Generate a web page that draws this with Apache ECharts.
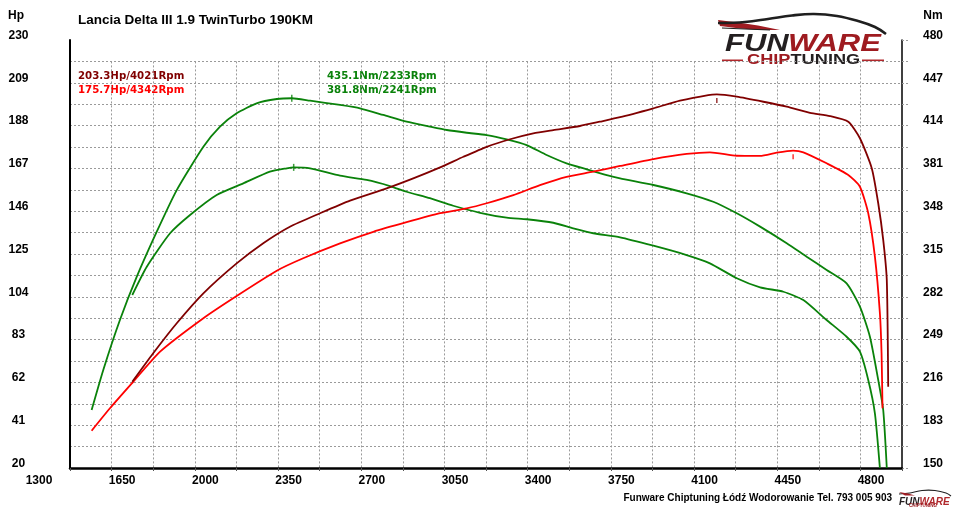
<!DOCTYPE html>
<html>
<head>
<meta charset="utf-8">
<script src="https://cdn.jsdelivr.net/npm/echarts@6.0.0/dist/echarts.min.js"></script>
<style>
  html, body { margin: 0; padding: 0; background: #fff; }
  #chart { width: 960px; height: 521px; }
</style>
</head>
<body>
<div id="chart"></div>
<script>
// Dyno sheet: Lancia Delta III 1.9 TwinTurbo, stock vs tuned
const rpmTicks = [1300, 1650, 2000, 2350, 2700, 3050, 3400, 3750, 4100, 4450, 4800];
const hpTicks = [20, 41, 62, 83, 104, 125, 146, 167, 188, 209, 230];
const nmTicks = [150, 183, 216, 249, 282, 315, 348, 381, 414, 447, 480];

// tuned power (dark red)
const tunedHpRpm = [1562, 1650, 1749, 1861, 2001, 2113, 2225, 2352, 2478, 2632, 2744, 2857, 2955, 3053, 3151, 3249, 3333, 3445, 3529, 3614, 3754, 3866, 3985, 4021, 4105, 4217, 4315, 4413, 4497, 4574, 4623, 4673, 4700, 4721, 4736, 4742];
const tunedHp = [62.3, 76.3, 91.0, 105.7, 120.4, 130.3, 138.4, 145.0, 151.2, 157.2, 162.1, 167.5, 172.7, 177.6, 181.3, 184.2, 185.8, 187.8, 189.9, 192.1, 196.5, 200.2, 203.0, 203.3, 202.2, 199.7, 197.3, 194.3, 192.7, 189.9, 181.8, 167.0, 149.9, 131.9, 112.2, 59.9];

// stock power (red)
const stockHpRpm = [1391, 1468, 1566, 1679, 1861, 2001, 2170, 2281, 2436, 2576, 2716, 2857, 2969, 3053, 3165, 3277, 3389, 3501, 3614, 3754, 3894, 3992, 4105, 4203, 4273, 4342, 4385, 4483, 4574, 4623, 4658, 4686, 4707, 4714, 4718];
const stockHp = [38.3, 49.3, 62.3, 77.1, 93.5, 104.4, 116.8, 122.9, 130.2, 135.9, 140.6, 145.0, 147.4, 149.9, 153.9, 158.8, 162.9, 165.4, 168.2, 171.6, 174.1, 174.9, 173.2, 173.1, 174.7, 175.7, 174.9, 169.5, 163.8, 158.0, 145.0, 123.7, 95.9, 76.3, 49.3];

// tuned torque (upper green)
const tunedNmRpm = [1391, 1440, 1510, 1581, 1665, 1749, 1861, 1931, 2001, 2085, 2170, 2233, 2310, 2436, 2520, 2618, 2716, 2814, 2885, 2969, 3053, 3137, 3221, 3305, 3389, 3474, 3558, 3614, 3754, 3894, 4006, 4105, 4203, 4315, 4399, 4483, 4567, 4623, 4665, 4700, 4721, 4736];
const tunedNm = [194.7, 225.6, 264.1, 297.5, 332.2, 364.3, 397.7, 413.2, 423.5, 431.2, 434.5, 435.1, 433.2, 429.9, 427.3, 422.2, 417.0, 413.2, 410.6, 408.5, 406.7, 403.4, 399.0, 391.3, 384.9, 380.3, 375.9, 373.4, 368.2, 361.8, 355.3, 346.4, 336.1, 323.3, 312.9, 302.7, 292.4, 274.4, 251.2, 217.9, 194.7, 150];

// stock torque (lower green)
const stockNmRpm = [1562, 1623, 1721, 1805, 1917, 2029, 2141, 2212, 2241, 2310, 2436, 2548, 2646, 2716, 2814, 2912, 3025, 3137, 3221, 3333, 3417, 3501, 3614, 3754, 3894, 3992, 4105, 4203, 4301, 4385, 4483, 4567, 4623, 4658, 4686, 4707];
const stockNm = [283.4, 305.2, 331.0, 345.1, 360.5, 369.5, 378.5, 381.1, 381.8, 381.1, 375.4, 372.1, 367.4, 363.0, 358.0, 352.2, 346.8, 343.0, 341.8, 339.1, 334.8, 331.0, 327.9, 321.4, 314.2, 307.8, 296.3, 289.3, 285.9, 279.5, 264.1, 251.2, 239.7, 217.9, 192.2, 150];

// peaks [rpm, value]
const tunedHpPeak = [4021, 203.3];
const stockHpPeak = [4342, 175.7];
const tunedNmPeak = [2233, 435.1];
const stockNmPeak = [2241, 381.8];

const DARK_RED = '#800000';
const RED = '#ff0000';
const GREEN = '#0a820a';
const GRID_COLOR = '#9a9a9a';
const AXIS_FONT = 'Liberation Sans';
const TAG_FONT = 'bold 11px "DejaVu Sans"';

const zip = (xs, ys) => xs.map((x, i) => [x, ys[i]]);

const chart = echarts.init(document.getElementById('chart'), null, { renderer: 'canvas' });

function lineSeries(name, data, color, yIndex) {
  return {
    name: name,
    type: 'line',
    xAxisIndex: 0,
    yAxisIndex: yIndex,
    data: data,
    symbol: 'none',
    smooth: 0.2,
    lineStyle: { color: color, width: 1.8 },
    silent: true
  };
}

function peakSeries(peak, color, yIndex, offset) {
  return {
    type: 'scatter',
    xAxisIndex: 0,
    yAxisIndex: yIndex,
    data: [peak],
    symbol: 'rect',
    symbolSize: [1.5, offset ? 5 : 7],
    symbolOffset: [0, offset],
    itemStyle: { color: color },
    silent: true
  };
}

function peakText(peak, unit, x, y, color) {
  return {
    type: 'text',
    x: x,
    y: y,
    scaleX: 0.93,
    style: {
      text: peak[1].toFixed(1) + unit + '/' + peak[0] + 'Rpm',
      font: TAG_FONT,
      fill: color,
      textVerticalAlign: 'middle'
    }
  };
}

const labelStyle = {
  color: '#000',
  fontFamily: AXIS_FONT,
  fontWeight: 'bold',
  fontSize: 12
};

const gridLine = { color: GRID_COLOR, width: 1, type: [2, 2] };

const option = {
  backgroundColor: '#fff',
  animation: false,
  title: {
    text: 'Lancia Delta III 1.9 TwinTurbo 190KM',
    left: 78,
    top: 13,
    padding: 0,
    textStyle: { fontFamily: AXIS_FONT, fontWeight: 'bold', fontSize: 13.5, color: '#000' }
  },
  grid: [
    { left: 70, right: 58, top: 40, bottom: 53 },
    { left: 70, right: 58, top: 61.4, bottom: 53 }
  ],
  xAxis: [
    {
      gridIndex: 0,
      type: 'value',
      min: rpmTicks[0],
      max: rpmTicks[rpmTicks.length - 1],
      interval: (rpmTicks[1] - rpmTicks[0]) / 2,
      axisLine: { lineStyle: { color: '#000', width: 2.5 } },
      axisTick: { show: true, length: 3, lineStyle: { color: '#555' } },
      axisLabel: {
        ...labelStyle,
        margin: 7,
        padding: [0, 62, 0, 0],
        showMinLabel: true,
        showMaxLabel: true,
        formatter: (v) => (rpmTicks.includes(v) ? String(v) : '')
      },
      splitLine: { show: false }
    },
    {
      gridIndex: 1,
      type: 'value',
      min: rpmTicks[0],
      max: rpmTicks[rpmTicks.length - 1],
      interval: (rpmTicks[1] - rpmTicks[0]) / 2,
      axisLine: { show: false },
      axisTick: { show: false },
      axisLabel: { show: false },
      splitLine: { show: true, showMinLine: false, showMaxLine: false, lineStyle: gridLine }
    }
  ],
  yAxis: [
    {
      gridIndex: 0,
      type: 'value',
      position: 'left',
      min: hpTicks[0],
      max: hpTicks[hpTicks.length - 1],
      interval: (hpTicks[1] - hpTicks[0]) / 2,
      name: 'Hp',
      nameLocation: 'end',
      nameGap: 18,
      nameTextStyle: { ...labelStyle, padding: [0, 108, 0, 0] },
      axisLine: { show: true, lineStyle: { color: '#000', width: 2 } },
      axisTick: { show: false },
      axisLabel: {
        ...labelStyle,
        margin: 51.5,
        align: 'center',
        verticalAlign: 'bottom',
        lineHeight: 9,
        showMinLabel: true,
        showMaxLabel: true,
        formatter: (v) => (hpTicks.includes(v) ? String(v) : '')
      },
      splitLine: { show: true, showMinLine: false, showMaxLine: false, lineStyle: gridLine }
    },
    {
      gridIndex: 0,
      type: 'value',
      position: 'right',
      min: nmTicks[0],
      max: nmTicks[nmTicks.length - 1],
      interval: (nmTicks[1] - nmTicks[0]) / 2,
      name: 'Nm',
      nameLocation: 'end',
      nameGap: 18,
      nameTextStyle: { ...labelStyle, padding: [0, 0, 0, 62] },
      axisLine: { show: true, lineStyle: { color: '#000', width: 1.5 } },
      axisTick: { show: true, length: 7, lineStyle: gridLine },
      axisLabel: {
        ...labelStyle,
        margin: 31,
        align: 'center',
        verticalAlign: 'bottom',
        lineHeight: 9,
        showMinLabel: true,
        showMaxLabel: true,
        formatter: (v) => (nmTicks.includes(v) ? String(v) : '')
      },
      splitLine: { show: false }
    },
    {
      gridIndex: 1,
      type: 'value',
      min: 0,
      max: 1,
      show: false
    }
  ],
  graphic: [
    // peak readouts
    peakText(tunedHpPeak, 'Hp', 78, 76, DARK_RED),
    peakText(stockHpPeak, 'Hp', 78, 90, RED),
    peakText(tunedNmPeak, 'Nm', 327, 76, GREEN),
    peakText(stockNmPeak, 'Nm', 327, 90, GREEN),

    // logo (top right)
    { type: 'polygon', shape: { points: [[718, 20], [738, 22.5], [758, 25.5], [780, 30], [760, 30], [740, 28.5], [720, 26]] }, style: { fill: '#a01c22' } },
    { type: 'polyline', shape: { points: [[718, 23], [745, 22], [768, 19], [792, 15.5], [814, 14], [837, 16], [858, 21], [875, 27], [886, 34]], smooth: 0.4 }, style: { stroke: '#1f1f1f', lineWidth: 2.6, fill: null } },
    { type: 'polyline', shape: { points: [[722, 28], [745, 29], [770, 30]] }, style: { stroke: '#1f1f1f', lineWidth: 1.2, fill: null } },
    { type: 'text', x: 725, y: 32, scaleX: 1.29, style: { text: 'FUN', font: 'italic bold 24px "Liberation Sans"', fill: '#231f20', textVerticalAlign: 'top' } },
    { type: 'text', x: 788, y: 32, scaleX: 1.29, style: { text: 'WARE', font: 'italic bold 24px "Liberation Sans"', fill: '#9e1b20', textVerticalAlign: 'top' } },
    { type: 'rect', shape: { x: 722, y: 59.5, width: 21, height: 1.6 }, style: { fill: '#b0282c' } },
    { type: 'rect', shape: { x: 862, y: 59.5, width: 22, height: 1.6 }, style: { fill: '#b0282c' } },
    { type: 'text', x: 747, y: 60.5, scaleX: 1.3, style: { text: 'CHIP', font: 'bold 14px "Liberation Sans"', fill: '#9e1b20', textVerticalAlign: 'middle' } },
    { type: 'text', x: 790.5, y: 60.5, scaleX: 1.3, style: { text: 'TUNING', font: 'bold 14px "Liberation Sans"', fill: '#231f20', textVerticalAlign: 'middle' } },

    // footer
    { type: 'text', x: 892, y: 498, style: { text: 'Funware Chiptuning Łódź Wodorowanie Tel. 793 005 903', font: 'bold 10px "Liberation Sans"', fill: '#000', textAlign: 'right', textVerticalAlign: 'middle' } },
    { type: 'polyline', shape: { points: [[899, 494], [910, 493], [922, 490.5], [935, 490.5], [946, 493], [951, 496]], smooth: 0.4 }, style: { stroke: '#222', lineWidth: 1.2, fill: null } },
    { type: 'polygon', shape: { points: [[899, 492], [908, 493.5], [915, 495.5], [905, 495.5]] }, style: { fill: '#a01c22' } },
    { type: 'text', x: 899, y: 497, style: { text: 'FUN', font: 'italic bold 10px "Liberation Sans"', fill: '#231f20', textVerticalAlign: 'top' } },
    { type: 'text', x: 919.6, y: 497, style: { text: 'WARE', font: 'italic bold 10px "Liberation Sans"', fill: '#b0282c', textVerticalAlign: 'top' } },
    { type: 'text', x: 909, y: 506, style: { text: 'CHIPTUNING', font: 'bold 4.5px "Liberation Sans"', fill: '#9e1b20', textVerticalAlign: 'middle' } }
  ],
  series: [
    lineSeries('Nm tuned', zip(tunedNmRpm, tunedNm), GREEN, 1),
    lineSeries('Nm stock', zip(stockNmRpm, stockNm), GREEN, 1),
    lineSeries('Hp stock', zip(stockHpRpm, stockHp), RED, 0),
    lineSeries('Hp tuned', zip(tunedHpRpm, tunedHp), DARK_RED, 0),
    peakSeries(tunedNmPeak, GREEN, 1, 0),
    peakSeries(stockNmPeak, GREEN, 1, 0),
    peakSeries(tunedHpPeak, DARK_RED, 0, 6),
    peakSeries(stockHpPeak, RED, 0, 6)
  ]
};

chart.setOption(option);
window.addEventListener('resize', () => chart.resize());
</script>
</body>
</html>
